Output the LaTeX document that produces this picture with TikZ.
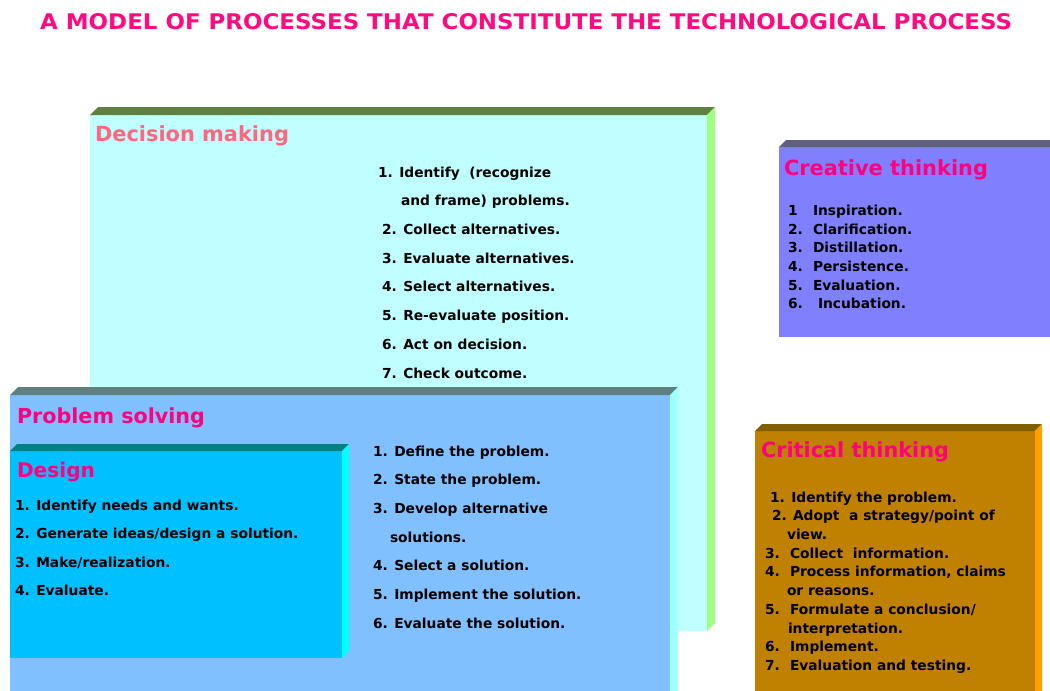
\documentclass[tikz,border=0pt]{standalone}
\usepackage{fontspec}
\setmainfont{DejaVu Sans}
\usepackage{graphicx}
\definecolor{titlepink}{RGB}{255,10,128}
\definecolor{headpink}{RGB}{255,0,128}
\definecolor{decpink}{RGB}{255,102,128}
\definecolor{decfront}{RGB}{192,255,255}
\definecolor{dectop}{RGB}{96,128,64}
\definecolor{decside}{RGB}{160,255,128}
\definecolor{crefront}{RGB}{128,128,255}
\definecolor{cretop}{RGB}{96,96,128}
\definecolor{crifront}{RGB}{192,128,0}
\definecolor{critop}{RGB}{128,96,0}
\definecolor{criside}{RGB}{255,160,0}
\definecolor{probfront}{RGB}{128,192,255}
\definecolor{probtop}{RGB}{96,128,128}
\definecolor{probside}{RGB}{160,255,255}
\definecolor{desfront}{RGB}{0,192,255}
\definecolor{destop}{RGB}{0,128,128}
\definecolor{desside}{RGB}{0,255,255}
\newcommand\boxthreed[8]{%
  \fill[#5] (#1,#2) rectangle (#3,#4);
  \fill[#6] (#1,#2) -- (#1+#8,#2-#8) -- (#3+#8,#2-#8) -- (#3,#2) -- cycle;
  \fill[#7] (#3,#2) -- (#3+#8,#2-#8) -- (#3+#8,#4-#8) -- (#3,#4) -- cycle;}
\newcommand\fitw[2]{\resizebox{#1pt}{!}{#2}}
\tikzset{
  body/.style={anchor=base west, inner sep=0pt, outer sep=0pt, text=black,
    font=\bfseries\fontsize{13.8}{16}\selectfont},
  head/.style={anchor=base west, inner sep=0pt, outer sep=0pt, text=headpink,
    font=\bfseries\fontsize{21}{24}\selectfont},
}
\begin{document}
\begin{tikzpicture}[x={(1pt,0pt)}, y={(0pt,-1pt)}]
\useasboundingbox (0,0) rectangle (1050,691);
\clip (0,0) rectangle (1050,691);
\fill[white] (0,0) rectangle (1050,691);

% title
\node[anchor=base west, inner sep=0pt, text=titlepink, font=\bfseries] (title) at (40,29)
  {\resizebox{972pt}{16pt}{A MODEL OF PROCESSES THAT CONSTITUTE THE TECHNOLOGICAL PROCESS}};

% Decision making
\boxthreed{90}{115}{707}{631}{decfront}{dectop}{decside}{8}
\node[head, text=decpink] (dech) at (95,141) {\fitw{194}{Decision making}};
\node[body] (d1) at (378,177) {1. Identify\ \ (recognize};
\node[body] (d1b) at (401,205.7) {and frame) problems.};
\node[body] (d2) at (382,234.4) {2. Collect alternatives.};
\node[body] (d3) at (382,263) {3. Evaluate alternatives.};
\node[body] (d4) at (382,291.8) {4. Select alternatives.};
\node[body] (d5) at (382,320.5) {5. Re-evaluate position.};
\node[body] (d6) at (382,349) {6. Act on decision.};
\node[body] (d7) at (382,378) {7. Check outcome.};

% Creative thinking
\boxthreed{779}{147}{1070}{337}{crefront}{cretop}{crefront}{7}
\node[head] (creh) at (784,175) {\fitw{204}{Creative thinking}};
\node[body] (c1n) at (788,215) {1};
\node[body] (c1) at (813,215) {Inspiration.};
\node[body] (c2n) at (788,234) {2.};
\node[body] (c2) at (813,234) {Clarification.};
\node[body] (c3n) at (788,252.5) {3.};
\node[body] (c3) at (813,252.5) {Distillation.};
\node[body] (c4n) at (788,271.5) {4.};
\node[body] (c4) at (813,271.5) {Persistence.};
\node[body] (c5n) at (788,290) {5.};
\node[body] (c5) at (813,290) {Evaluation.};
\node[body] (c6n) at (788,308.5) {6.};
\node[body] (c6) at (818,308.5) {Incubation.};

% Critical thinking
\boxthreed{755}{431}{1035}{720}{crifront}{critop}{criside}{7}
\node[head] (crih) at (761,457) {\fitw{188}{Critical thinking}};
\node[body] (k1) at (770,502) {1. Identify the problem.};
\node[body] (k2n) at (772,520.7) {2.};
\node[body] (k2) at (793,520.7) {Adopt\ \ a strategy/point of};
\node[body] (k2b) at (787,539.4) {view.};
\node[body] (k3n) at (765,558) {3.};
\node[body] (k3) at (790,558) {Collect\ \ information.};
\node[body] (k4n) at (765,576.8) {4.};
\node[body] (k4) at (790,576.8) {Process information, claims};
\node[body] (k4b) at (787,595.5) {or reasons.};
\node[body] (k5n) at (765,614) {5.};
\node[body] (k5) at (790,614) {Formulate a conclusion/};
\node[body] (k5b) at (788,633) {interpretation.};
\node[body] (k6n) at (765,651.6) {6.};
\node[body] (k6) at (790,651.6) {Implement.};
\node[body] (k7n) at (765,670.3) {7.};
\node[body] (k7) at (790,670.3) {Evaluation and testing.};

% Problem solving
\boxthreed{10}{395}{670}{720}{probfront}{probtop}{probside}{8}
\node[head] (probh) at (17,423) {\fitw{188}{Problem solving}};
\node[body] (p1) at (373,456) {1. Define the problem.};
\node[body] (p2) at (373,484.7) {2. State the problem.};
\node[body] (p3) at (373,513.4) {3. Develop alternative};
\node[body] (p3b) at (390,542) {solutions.};
\node[body] (p4) at (373,570.8) {4. Select a solution.};
\node[body] (p5) at (373,599.5) {5. Implement the solution.};
\node[body] (p6) at (373,628) {6. Evaluate the solution.};

% Design
\boxthreed{10}{451}{342}{658}{desfront}{destop}{desside}{7}
\node[head] (desh) at (17,477) {\fitw{78}{Design}};
\node[body] (s1) at (15,510) {1. Identify needs and wants.};
\node[body] (s2) at (15,538.5) {2. Generate ideas/design a solution.};
\node[body] (s3) at (15,567) {3. Make/realization.};
\node[body] (s4) at (15,595.5) {4. Evaluate.};
\end{tikzpicture}
\end{document}
